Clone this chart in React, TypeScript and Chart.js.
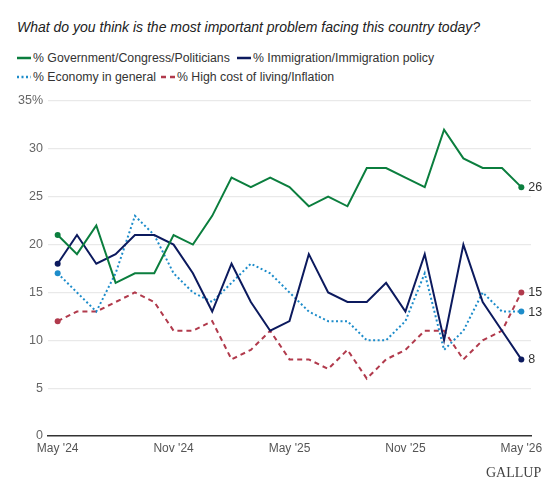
import React, { useEffect, useRef } from "react";
import { Chart, registerables } from "chart.js";

Chart.register(...registerables);

const FONT = "'Liberation Sans', Arial, sans-serif";

const MONTHS = [
  "May '24", "Jun '24", "Jul '24", "Aug '24", "Sep '24", "Oct '24", "Nov '24", "Dec '24",
  "Jan '25", "Feb '25", "Mar '25", "Apr '25", "May '25", "Jun '25", "Jul '25", "Aug '25",
  "Sep '25", "Oct '25", "Nov '25", "Dec '25", "Jan '26", "Feb '26", "Mar '26", "Apr '26", "May '26",
];

const GOVERNMENT = [21, 19, 22, 16, 17, 17, 21, 20, 23, 27, 26, 27, 26, 24, 25, 24, 28, 28, 27, 26, 32, 29, 28, 28, 26];
const IMMIGRATION = [18, 21, 18, 19, 21, 21, 20, 17, 13, 18, 14, 11, 12, 19, 15, 14, 14, 16, 13, 19, 10, 20, 14, 11, 8];
const ECONOMY = [17, 15, 13, 17, 23, 21, 17, 15, 14, 16, 18, 17, 15, 13, 12, 12, 10, 10, 12, 17, 9, 11, 15, 13, 13];
const INFLATION = [12, 13, 13, 14, 15, 14, 11, 11, 12, 8, 9, 11, 8, 8, 7, 9, 6, 8, 9, 11, 11, 8, 10, 11, 15];

const Y_TICKS = [0, 5, 10, 15, 20, 25, 30, 35];

const GREEN = "#0b7e3e";
const NAVY = "#0c1a5e";
const BLUE = "#1d8cca";
const RED = "#b13a4c";

type Series = { label: string; data: number[]; color: string; dash: number[] };

const SERIES: Series[] = [
  { label: "% Government/Congress/Politicians", data: GOVERNMENT, color: GREEN, dash: [] },
  { label: "% Immigration/Immigration policy", data: IMMIGRATION, color: NAVY, dash: [] },
  { label: "% Economy in general", data: ECONOMY, color: BLUE, dash: [2, 2.5] },
  { label: "% High cost of living/Inflation", data: INFLATION, color: RED, dash: [5, 4] },
];

// Writes the latest value just to the right of each line's final point
const endLabels = {
  id: "endLabels",
  afterDatasetsDraw(chart: any) {
    const ctx = chart.ctx;
    ctx.save();
    ctx.font = `12.5px ${FONT}`;
    ctx.fillStyle = "#333";
    ctx.textAlign = "left";
    ctx.textBaseline = "middle";
    chart.data.datasets.forEach((ds: any, i: number) => {
      const meta = chart.getDatasetMeta(i);
      const last = meta.data[meta.data.length - 1];
      if (!last) return;
      ctx.fillText(String(ds.data[ds.data.length - 1]), last.x + 7, last.y + 0.5);
    });
    ctx.restore();
  },
};

function LegendMark({ color, dash }: { color: string; dash: number[] }) {
  return (
    <svg width="14" height="6" style={{ position: "absolute", left: 0, top: 5 }}>
      <line
        x1="0"
        y1="3"
        x2="14"
        y2="3"
        stroke={color}
        strokeWidth="2.5"
        strokeDasharray={dash.length ? dash.join(" ") : undefined}
      />
    </svg>
  );
}

function LegendItem({ s, left, top }: { s: Series; left: number; top: number }) {
  return (
    <div
      style={{
        position: "absolute",
        left,
        top,
        height: 16,
        whiteSpace: "nowrap",
        fontFamily: FONT,
        fontSize: "12.3px",
        lineHeight: "16px",
        color: "#333",
      }}
    >
      <LegendMark color={s.color} dash={s.dash} />
      <span style={{ marginLeft: 16 }}>{s.label}</span>
    </div>
  );
}

export default function App() {
  const canvasRef = useRef<HTMLCanvasElement | null>(null);

  useEffect(() => {
    if (!canvasRef.current) return;
    const lastIdx = MONTHS.length - 1;
    const chart = new Chart(canvasRef.current, {
      type: "line",
      data: {
        labels: MONTHS,
        datasets: SERIES.map((s) => ({
          label: s.label,
          data: s.data,
          borderColor: s.color,
          backgroundColor: s.color,
          borderWidth: 2,
          borderDash: s.dash,
          tension: 0,
          fill: false,
          pointRadius: (c: any) => (c.dataIndex === 0 || c.dataIndex === lastIdx ? 3 : 0),
          pointHoverRadius: 0,
          pointBorderWidth: 0,
          pointBackgroundColor: s.color,
        })),
      },
      plugins: [endLabels],
      options: {
        animation: false,
        responsive: true,
        maintainAspectRatio: false,
        layout: { padding: { left: 0, right: 29, top: 13, bottom: 4 } },
        plugins: {
          legend: { display: false },
          tooltip: { enabled: false },
          title: { display: false },
        },
        scales: {
          x: {
            type: "category",
            offset: true,
            grid: { display: false, drawTicks: false },
            border: { display: true, color: "#333", width: 1.5 },
            ticks: {
              autoSkip: false,
              maxRotation: 0,
              padding: 5,
              color: "#555",
              font: { family: FONT, size: 12 },
              callback: (_v: any, idx: number) => (idx % 6 === 0 ? MONTHS[idx] : ""),
            },
            afterFit: (axis: any) => {
              axis.height = 30;
            },
          },
          y: {
            min: 0,
            max: 35,
            afterBuildTicks: (axis: any) => {
              axis.ticks = Y_TICKS.map((v) => ({ value: v }));
            },
            grid: {
              drawTicks: false,
              color: (c: any) => (c.tick && c.tick.value === 0 ? "rgba(0,0,0,0)" : "#e9e9e9"),
              lineWidth: 1.2,
            },
            border: { display: false },
            ticks: {
              padding: 5,
              color: "#666",
              font: { family: FONT, size: 12.5 },
              callback: (v: any) => (v === 35 ? "35%" : String(v)),
            },
            afterFit: (axis: any) => {
              axis.width = 48;
            },
          },
        },
      },
    });
    return () => chart.destroy();
  }, []);

  return (
    <div
      style={{
        position: "absolute",
        left: 0,
        top: 0,
        width: 560,
        height: 500,
        background: "#fff",
        overflow: "hidden",
      }}
    >
      <div
        style={{
          position: "absolute",
          left: 17,
          top: 19,
          fontFamily: FONT,
          fontStyle: "italic",
          fontSize: "14px",
          lineHeight: "16px",
          color: "#222",
          whiteSpace: "nowrap",
        }}
      >
        What do you think is the most important problem facing this country today?
      </div>

      <LegendItem s={SERIES[0]} left={17} top={50} />
      <LegendItem s={SERIES[1]} left={237} top={50} />
      <LegendItem s={SERIES[2]} left={17} top={69} />
      <LegendItem s={SERIES[3]} left={161} top={69} />

      <div style={{ position: "absolute", left: 0, top: 88, width: 560, height: 382 }}>
        <canvas ref={canvasRef} />
      </div>

      <div
        style={{
          position: "absolute",
          left: 486,
          top: 465,
          fontFamily: "'Liberation Serif', 'Times New Roman', serif",
          fontSize: "14px",
          lineHeight: "16px",
          color: "#444",
          whiteSpace: "nowrap",
        }}
      >
        GALLUP
      </div>
    </div>
  );
}
